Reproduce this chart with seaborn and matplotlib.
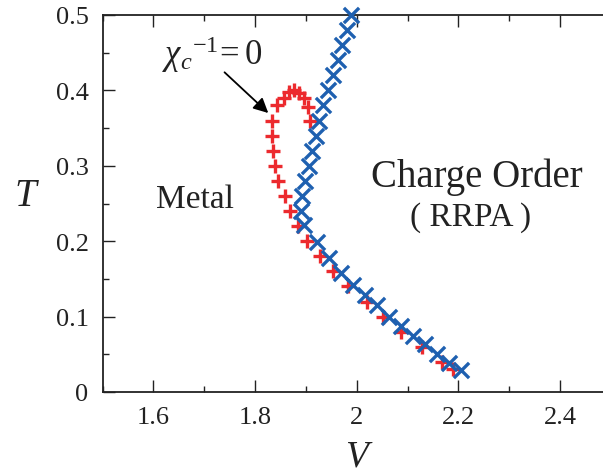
import matplotlib
matplotlib.use("Agg")
import matplotlib.pyplot as plt
from matplotlib.ticker import MultipleLocator, FuncFormatter
import seaborn as sns
import pandas as pd

# chi_c^{-1} = 0 boundary (red crosses)
red_V = [2.190, 2.167, 2.128, 2.088, 2.052, 2.020, 1.983, 1.953, 1.928, 1.902,
         1.885, 1.869, 1.859, 1.846, 1.839, 1.836, 1.833, 1.833, 1.844, 1.857,
         1.866, 1.877, 1.887, 1.897, 1.905, 1.908]
red_T = [0.030, 0.040, 0.060, 0.080, 0.100, 0.120, 0.140, 0.160, 0.180, 0.200,
         0.220, 0.240, 0.260, 0.280, 0.300, 0.320, 0.340, 0.360, 0.380, 0.390,
         0.398, 0.401, 0.397, 0.390, 0.378, 0.360]

# charge-order (RRPA) transition line (blue x)
blue_V = [1.989, 1.981, 1.971, 1.963, 1.953, 1.943, 1.934, 1.926, 1.920, 1.912,
          1.906, 1.898, 1.892, 1.890, 1.897, 1.922, 1.945, 1.969, 1.993, 2.016,
          2.040, 2.063, 2.087, 2.110, 2.134, 2.158, 2.181, 2.205]
blue_T = [0.500, 0.480, 0.460, 0.440, 0.420, 0.400, 0.380, 0.360, 0.340, 0.320,
          0.300, 0.280, 0.260, 0.240, 0.222, 0.199, 0.178, 0.158, 0.142, 0.128,
          0.115, 0.099, 0.087, 0.074, 0.063, 0.051, 0.039, 0.029]

x_ticks = [1.6, 1.8, 2.0, 2.2, 2.4]
y_ticks = [0, 0.1, 0.2, 0.3, 0.4, 0.5]

red_df = pd.DataFrame({"V": red_V, "T": red_T})
blue_df = pd.DataFrame({"V": blue_V, "T": blue_T})

sns.set_style("ticks")
SERIF = ["Liberation Serif", "DejaVu Serif"]
plt.rcParams["font.family"] = SERIF
plt.rcParams["mathtext.fontset"] = "custom"
plt.rcParams["mathtext.rm"] = "Liberation Serif"
plt.rcParams["mathtext.it"] = "Liberation Serif:italic"

INK = "#222222"
RED = "#ec2a2e"
BLUE = "#1e60b0"

fig = plt.figure(figsize=(6.03, 4.77), dpi=100)
ax = fig.add_axes([102.5 / 603, 84 / 477, 508.5 / 603, 377 / 477])

sns.scatterplot(data=red_df, x="V", y="T", marker="+", s=90, color=RED,
                linewidth=2.4, ax=ax, clip_on=False, zorder=3)
sns.scatterplot(data=blue_df, x="V", y="T", marker="x", s=120, color=BLUE,
                linewidth=2.4, ax=ax, clip_on=False, zorder=4)

ax.set_xlim(1.5, 2.5)
ax.set_ylim(0, 0.5)
ax.set_xticks(x_ticks)
ax.set_yticks(y_ticks)
ax.xaxis.set_minor_locator(MultipleLocator(0.1))
ax.yaxis.set_minor_locator(MultipleLocator(0.05))
fmt = FuncFormatter(lambda v, p: f"{v:g}")
ax.xaxis.set_major_formatter(fmt)
ax.yaxis.set_major_formatter(fmt)

ax.tick_params(which="both", direction="in", top=True, right=False,
               width=1.0, color=INK, labelsize=19, labelcolor=INK)
ax.tick_params(which="major", length=8.5)
ax.tick_params(which="minor", length=4.5)
ax.tick_params(axis="y", pad=10)
ax.tick_params(axis="x", pad=10)
for lab in ax.get_xticklabels() + ax.get_yticklabels():
    lab.set_fontfamily(SERIF)
for side in ["left", "bottom", "top"]:
    ax.spines[side].set_linewidth(1.3)
    ax.spines[side].set_color(INK)
ax.spines["right"].set_visible(False)

ax.set_xlabel("V", fontsize=27, style="italic", color=INK, family=SERIF)
ax.set_ylabel("T", fontsize=28, style="italic", color=INK, rotation=0, family=SERIF)
ax.xaxis.set_label_coords(0.4985, -0.17)
ax.yaxis.set_label_coords(-0.152, 0.522)
ax.xaxis.label.set_va("center")
ax.yaxis.label.set_va("center")
ax.yaxis.label.set_ha("center")

ax.text(1.682, 0.256, "Metal", fontsize=24, ha="center", va="center", color=INK)
ax.text(2.236, 0.286, "Charge Order", fontsize=28, ha="center", va="center", color=INK)
ax.text(2.223, 0.232, "( RRPA )", fontsize=24, ha="center", va="center", color=INK)

ax.text(1.715, 0.449, r"$\chi_{c}{}^{\mathrm{-1}}\!= 0$", fontsize=25,
        ha="center", va="center", color=INK)
ax.annotate("", xy=(1.826, 0.370), xytext=(1.740, 0.424),
            arrowprops=dict(arrowstyle="-|>", color="black", lw=1.3,
                            mutation_scale=22, shrinkA=0, shrinkB=0))

fig.savefig("out.png", dpi=100)
